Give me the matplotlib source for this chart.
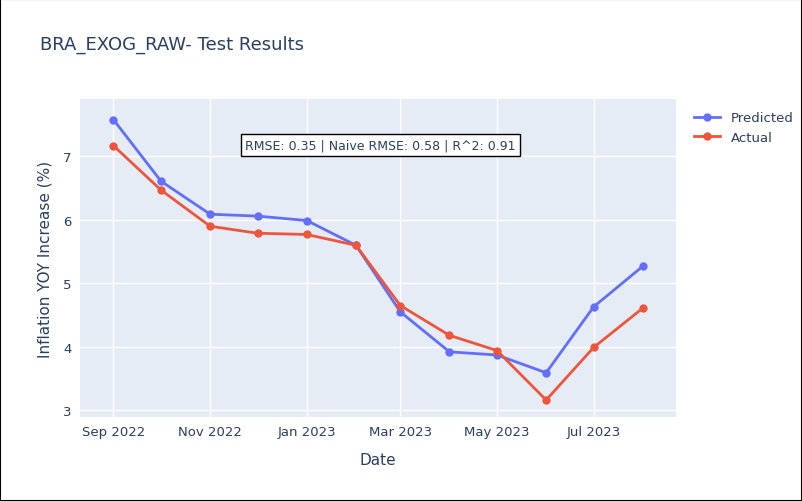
import matplotlib.pyplot as plt
import matplotlib.dates as mdates
import numpy as np
import pandas as pd

dates = pd.date_range("2022-09-01", periods=12, freq="MS")
predicted = [7.58, 6.61, 6.09, 6.06, 5.99, 5.60, 4.55, 3.92, 3.87, 3.59, 4.63, 5.27]
actual = [7.17, 6.47, 5.90, 5.79, 5.77, 5.60, 4.65, 4.18, 3.94, 3.16, 3.99, 4.61]

fig = plt.figure(figsize=(8.02, 5.02), dpi=100)
ax = fig.add_axes([0.1, 0.167, 0.743, 0.633])
ax.set_facecolor("#e5ecf6")
for s in ax.spines.values():
    s.set_visible(False)
ax.grid(color="white", linewidth=1)
ax.set_axisbelow(True)

ax.plot(dates, predicted, color="#636efa", marker="o", markersize=5, linewidth=2, label="Predicted")
ax.plot(dates, actual, color="#ef553b", marker="o", markersize=5, linewidth=2, label="Actual")

ax.set_xlim(pd.Timestamp("2022-08-11"), pd.Timestamp("2023-08-22"))
ax.set_ylim(2.89, 7.9)
ax.set_yticks([3, 4, 5, 6, 7])
ax.xaxis.set_major_locator(mdates.MonthLocator(bymonth=[1, 3, 5, 7, 9, 11]))
ax.xaxis.set_major_formatter(mdates.DateFormatter("%b %Y"))
ax.tick_params(length=0, labelsize=9.5, colors="#2a3f5f", pad=6)
ax.set_xlabel("Date", color="#2a3f5f", fontsize=11, labelpad=10)
ax.set_ylabel("Inflation YOY Increase (%)", color="#2a3f5f", fontsize=11, labelpad=8)

fig.text(0.05, 0.91, "BRA_EXOG_RAW- Test Results", fontsize=13, color="#2a3f5f", va="center")
fig.text(0.474, 0.709, "RMSE: 0.35 | Naive RMSE: 0.58 | R^2: 0.91", fontsize=9, color="#2a3f5f",
         ha="center", va="center",
         bbox=dict(boxstyle="square,pad=0.35", facecolor="white", edgecolor="black", linewidth=1))

ax.legend(loc="upper left", bbox_to_anchor=(1.01, 1.0), frameon=False, fontsize=9.5,
          labelcolor="#2a3f5f", handlelength=2)

fig.patches.append(plt.Rectangle((0, 0), 1, 1, transform=fig.transFigure, fill=False,
                                 edgecolor="black", linewidth=1.5))
fig.savefig("out.png", dpi=100)
